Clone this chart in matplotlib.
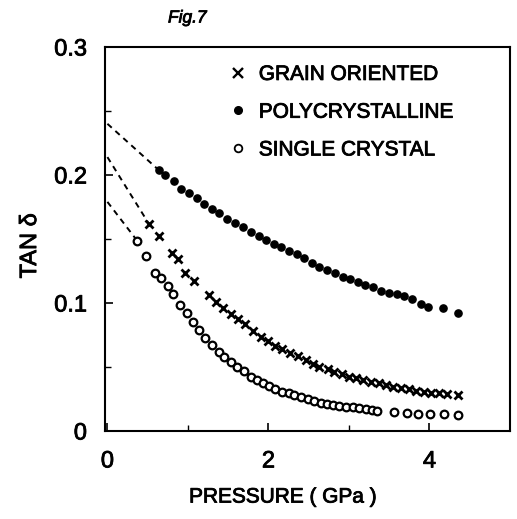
import matplotlib
matplotlib.use("Agg")
import matplotlib.pyplot as plt
import matplotlib.patheffects as pe
from matplotlib.lines import Line2D

plt.rcParams['font.family'] = ['Liberation Sans', 'DejaVu Sans']

# ---- data ----
poly_p = [0.637, 0.720, 0.832, 0.916, 1.010, 1.114, 1.205, 1.301, 1.391, 1.487,
          1.590, 1.681, 1.785, 1.880, 1.971, 2.066, 2.158, 2.261, 2.352, 2.447,
          2.543, 2.634, 2.729, 2.832, 2.923, 3.019, 3.109, 3.205, 3.304, 3.400,
          3.494, 3.594, 3.683, 3.785, 3.897, 3.979, 4.165, 4.352]
poly_t = [0.2039, 0.2000, 0.1953, 0.1888, 0.1862, 0.1818, 0.1771, 0.1737, 0.1705, 0.1659,
          0.1627, 0.1596, 0.1557, 0.1523, 0.1492, 0.1463, 0.1435, 0.1404, 0.1380, 0.1349,
          0.1315, 0.1284, 0.1258, 0.1232, 0.1205, 0.1188, 0.1162, 0.1141, 0.1127, 0.1094,
          0.1076, 0.1068, 0.1051, 0.1029, 0.0990, 0.0971, 0.0959, 0.0924]

grain_p = [0.513, 0.637, 0.804, 0.876, 0.969, 1.071, 1.258, 1.350, 1.441, 1.537,
           1.619, 1.714, 1.814, 1.909, 1.991, 2.087, 2.170, 2.270, 2.364, 2.468,
           2.550, 2.634, 2.737, 2.820, 2.916, 3.006, 3.089, 3.180, 3.276, 3.370,
           3.462, 3.544, 3.648, 3.743, 3.835, 3.938, 4.021, 4.124, 4.215, 4.352]
grain_t = [0.1621, 0.1520, 0.1391, 0.1340, 0.1232, 0.1172, 0.1063, 0.1010, 0.0961, 0.0914,
           0.0875, 0.0836, 0.0785, 0.0737, 0.0705, 0.0664, 0.0638, 0.0612, 0.0586, 0.0555,
           0.0527, 0.0502, 0.0482, 0.0463, 0.0449, 0.0424, 0.0412, 0.0402, 0.0385, 0.0373,
           0.0359, 0.0346, 0.0334, 0.0326, 0.0315, 0.0307, 0.0299, 0.0295, 0.0289, 0.0281]

single_p = [0.369, 0.484, 0.590, 0.667, 0.749, 0.820, 0.903, 0.985, 1.060, 1.143,
            1.217, 1.301, 1.383, 1.453, 1.537, 1.606, 1.702, 1.785, 1.855, 1.929,
            2.004, 2.087, 2.170, 2.252, 2.323, 2.406, 2.488, 2.571, 2.655, 2.724,
            2.807, 2.882, 2.965, 3.047, 3.130, 3.214, 3.286, 3.354, 3.557, 3.723,
            3.855, 4.012, 4.186, 4.352]
single_t = [0.1487, 0.1367, 0.1232, 0.1199, 0.1133, 0.1070, 0.0984, 0.0920, 0.0854, 0.0789,
            0.0729, 0.0672, 0.0620, 0.0580, 0.0541, 0.0502, 0.0469, 0.0424, 0.0398, 0.0377,
            0.0352, 0.0326, 0.0307, 0.0295, 0.0281, 0.0263, 0.0248, 0.0234, 0.0216, 0.0209,
            0.0203, 0.0195, 0.0190, 0.0185, 0.0177, 0.0170, 0.0164, 0.0159, 0.0146, 0.0138,
            0.0133, 0.0133, 0.0130, 0.0125]

# extrapolated values at zero pressure (dashed lines)
extrap_t0 = {"poly": 0.240, "grain": 0.214, "single": 0.179}

labels = ["GRAIN ORIENTED", "POLYCRYSTALLINE", "SINGLE CRYSTAL"]
x_ticks = [0, 2, 4]
y_ticks = [0, 0.1, 0.2, 0.3]
y_ticklabels = ["0", "0.1", "0.2", "0.3"]

# ---- figure ----
fig = plt.figure(figsize=(5.17, 5.19), dpi=100)
ax = fig.add_axes([105/517, 1 - 431/519, 405/517, 384/519])

ax.set_xlim(-0.03, 5.0)
ax.set_ylim(0, 0.3)

dash = dict(color='black', lw=1.4, ls=(0, (3, 2.5)))
ax.plot([0, poly_p[0]], [extrap_t0["poly"], poly_t[0]], **dash)
ax.plot([0, grain_p[0]], [extrap_t0["grain"], grain_t[0]], **dash)
ax.plot([0, single_p[0]], [extrap_t0["single"], single_t[0]], **dash)

ax.plot(grain_p, grain_t, ls='none', marker='x', ms=6, mew=2.0, color='black')
ax.plot(poly_p, poly_t, ls='none', marker='o', ms=5.2, color='black')
ax.plot(single_p, single_t, ls='none', marker='o', ms=5.5, mfc='white', mec='black', mew=1.6)

for s in ax.spines.values():
    s.set_linewidth(1.5)

ax.set_xticks(x_ticks)
ax.set_xticks([1, 3], minor=True)
ax.set_yticks(y_ticks)
ax.set_yticklabels(y_ticklabels)
ax.set_yticks([0.05, 0.15, 0.25], minor=True)
ax.tick_params(axis='both', which='major', direction='in', length=6, width=1.2, labelsize=17)
ax.tick_params(axis='both', which='minor', direction='in', length=4, width=1.0)
ax.tick_params(axis='x', which='major', pad=14)
ax.tick_params(axis='y', which='major', pad=13)

ax.set_xlabel("PRESSURE ( GPa )", fontsize=15)
ax.xaxis.label.set_va('center')
ax.xaxis.set_label_coords(0.44, -0.172)
ax.set_ylabel("TAN δ", fontsize=17)
ax.yaxis.label.set_va('center')
ax.yaxis.set_label_coords(-0.185, 0.482)

handles = [
    Line2D([], [], ls='none', marker='x', ms=6.5, mew=1.7, color='black'),
    Line2D([], [], ls='none', marker='o', ms=5.5, color='black'),
    Line2D([], [], ls='none', marker='o', ms=5.5, mfc='white', mec='black', mew=1.3),
]
leg = ax.legend(handles, labels, loc='upper left', bbox_to_anchor=(0.282, 0.975),
                frameon=False, fontsize=15, handlelength=1.0, handletextpad=0.5,
                labelspacing=0.9, borderaxespad=0)

figtxt = fig.text(168/517, 1 - 18/519, "Fig.7", fontsize=12.5, style='italic',
                  va='center', ha='left')

# slightly heavier text strokes, like the printed original
stroke = [pe.withStroke(linewidth=0.6, foreground='black')]
texts = (ax.get_xticklabels() + ax.get_yticklabels() + leg.get_texts()
         + [ax.xaxis.label, ax.yaxis.label, figtxt])
for t in texts:
    t.set_path_effects(stroke)

fig.savefig("out.png", dpi=100)
